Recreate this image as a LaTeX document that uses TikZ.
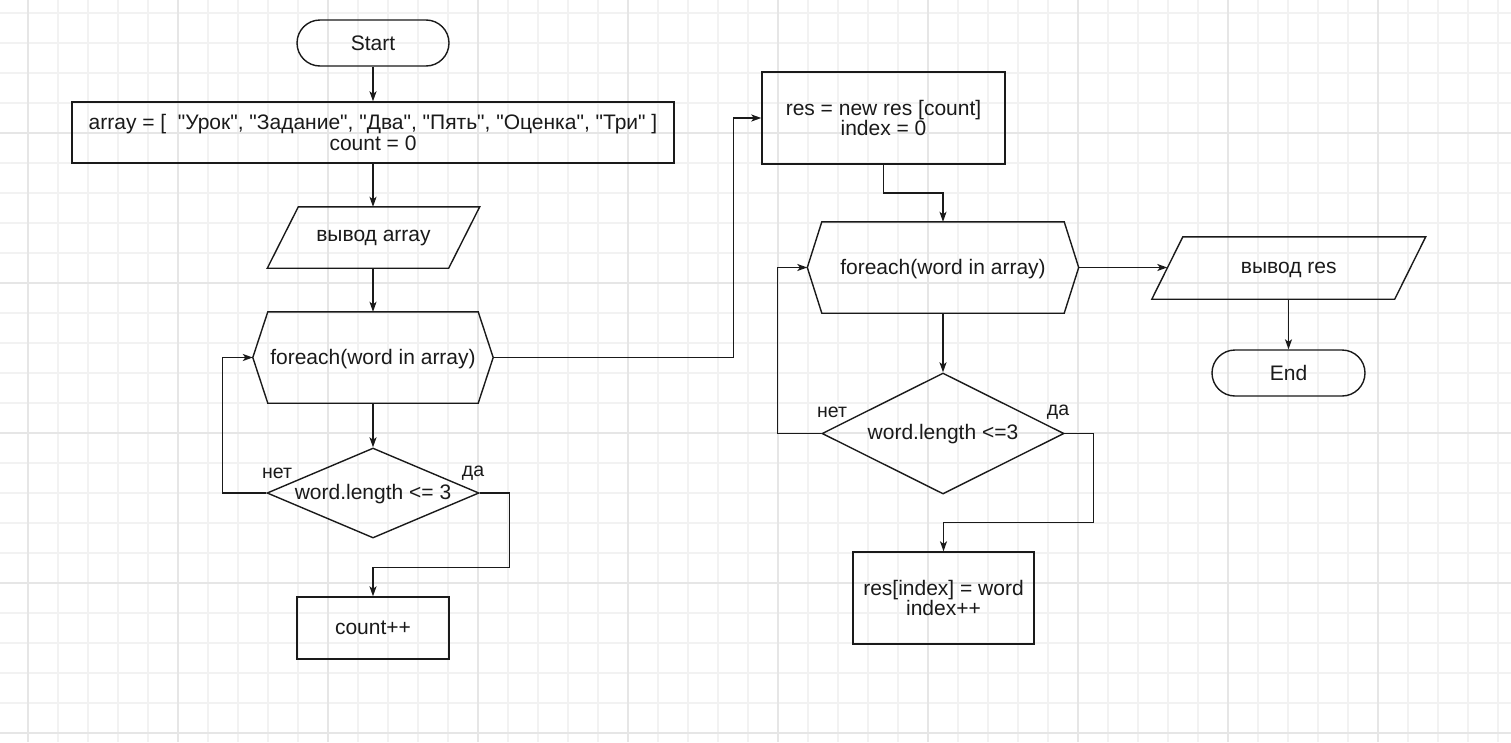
\documentclass[tikz,border=0pt]{standalone}
\usepackage{fontspec}
\setmainfont{Liberation Sans}[Ligatures=TeXOff]
\usetikzlibrary{shapes.geometric,arrows.meta,calc}
\definecolor{gridminor}{HTML}{F2F2F2}
\definecolor{gridmajor}{HTML}{E6E6E6}
\definecolor{ink}{HTML}{1A1A1A}
\begin{document}
\begin{tikzpicture}[x=1pt,y=-1pt,
  every node/.style={font=\fontsize{21}{20.5}\selectfont, text=ink, inner sep=0pt},
  shp/.style={draw=ink, line width=1.4pt},
  boxnode/.style={shp, rectangle, align=center},
  termnode/.style={shp, rectangle, rounded corners=23pt, minimum width=152pt, minimum height=46pt},
  hidden/.style={rectangle, align=center},
  decnode/.style={shp, diamond, inner sep=0pt},
  conn/.style={draw=ink, line width=1.4pt, -{Stealth[length=10pt,width=7pt,inset=2.5pt]}},
  edgelbl/.style={font=\fontsize{19.5}{20}\selectfont},
  gmin/.style={draw=gridminor, line width=1.5pt},
  gmaj/.style={draw=gridmajor, line width=1.5pt}
]
\useasboundingbox (0,0) rectangle (1511,742);
\fill[white] (0,0) rectangle (1511,742);
% grid
\foreach \x in {58,88,...,1498} \draw[gmin] (\x,0) -- (\x,742);
\foreach \y in {13,43,...,733} \draw[gmin] (0,\y) -- (1511,\y);
\draw[gmin] (28,0) -- (28,742);
\foreach \x in {28,178,...,1378} \draw[gmaj] (\x,0) -- (\x,742);
\foreach \y in {133,283,...,733} \draw[gmaj] (0,\y) -- (1511,\y);

% left column
\node[termnode] (start) at (373,43) {Start};
\node[boxnode, minimum width=602pt, minimum height=61pt] (arr) at (373,132.5)
  {array = [\ \ "Урок", "Задание", "Два", "Пять", "Оценка", "Три" ]\\count = 0};
\node[hidden, minimum width=181pt, minimum height=61pt] (p1) at (373.5,238.5) {вывод array};
\draw[shp] ([shift={(-15.5pt,1pt)}]p1.south west) -- ([shift={(15.5pt,1pt)}]p1.north west)
  -- ([shift={(15.5pt,1pt)}]p1.north east) -- ([shift={(-15.5pt,1pt)}]p1.south east) -- cycle;
\node[hidden, minimum width=210pt, minimum height=91pt] (h1) at (373,359) {foreach(word in array)};
\coordinate (h1l) at ([shift={(-15pt,1.5pt)}]h1.west);
\coordinate (h1r) at ([shift={(15pt,1.5pt)}]h1.east);
\draw[shp] (h1l) -- ([yshift=1.5pt]h1.north west) -- ([yshift=1.5pt]h1.north east) -- (h1r)
  -- ([yshift=1.5pt]h1.south east) -- ([yshift=1.5pt]h1.south west) -- cycle;
\node[decnode, minimum width=212pt, minimum height=90pt, label={[yshift=-1pt]center:{word.length <= 3}}] (d1) at (373,493) {};
\node[boxnode, minimum width=152pt, minimum height=62pt] (cnt) at (373,628) {count++};
\node[edgelbl] (n1) at (277,473) {нет};
\node[edgelbl] (y1) at (473,473) {да};

% right part
\node[boxnode, minimum width=243pt, minimum height=92pt] (res) at (883.5,118) {res = new res [count]\\index = 0};
\node[hidden, minimum width=242pt, minimum height=91pt] (h2) at (943,269) {foreach(word in array)};
\coordinate (h2l) at ([shift={(-14.5pt,1.5pt)}]h2.west);
\coordinate (h2r) at ([shift={(14.5pt,1.5pt)}]h2.east);
\draw[shp] (h2l) -- ([yshift=1.5pt]h2.north west) -- ([yshift=1.5pt]h2.north east) -- (h2r)
  -- ([yshift=1.5pt]h2.south east) -- ([yshift=1.5pt]h2.south west) -- cycle;
\node[decnode, minimum width=242pt, minimum height=121pt, label={[yshift=-1pt]center:{word.length <=3}}] (d2) at (943,433.5) {};
\node[boxnode, minimum width=181pt, minimum height=92pt] (ri) at (943.5,598) {res[index] = word\\index++};
\node[edgelbl] (n2) at (832,412) {нет};
\node[edgelbl] (y2) at (1058,412) {да};
\node[hidden, minimum width=242.5pt, minimum height=62pt] (p2) at (1288.75,269.5) {вывод res};
\draw[shp] ([shift={(-15.5pt,1.5pt)}]p2.south west) -- ([shift={(15.5pt,1.5pt)}]p2.north west)
  -- ([shift={(15.5pt,1.5pt)}]p2.north east) -- ([shift={(-15.5pt,1.5pt)}]p2.south east) -- cycle;
\node[termnode, minimum width=153pt] (end) at (1288.5,373) {End};

% connectors
\draw[conn] (start.south) -- (arr.south |- arr.north);
\draw[conn] (arr.south) -- ([yshift=1pt]arr.south |- p1.north);
\draw[conn] ([yshift=1pt]arr.south |- p1.south) -- ([yshift=1.5pt]h1.north);
\draw[conn] ([yshift=1.5pt]h1.south) -- (d1.north);
\draw[conn] (d1.west) -- ++(-44,0) |- (h1l);
\draw[conn] (d1.east) -- ++(30,0) |- ([yshift=29pt]cnt.north) -- (cnt.north);
\draw[conn] (h1r) -| ([xshift=-28pt]res.west) -- (res.west);
\draw[conn] (res.south) |- ([yshift=30.5pt]h2.north) -- ([yshift=1.5pt]h2.north);
\draw[conn] ([yshift=1.5pt]h2.south) -- (d2.north);
\draw[conn] (d2.west) -- ++(-44,0) |- (h2l);
\draw[conn] (d2.east) -- ++(29,0) |- ([yshift=29pt]ri.north) -- (ri.north);
\draw[conn] (h2r) -- (h2r -| p2.west);
\draw[conn] ([yshift=1.5pt]p2.south -| end.north) -- (end.north);
\end{tikzpicture}
\end{document}
